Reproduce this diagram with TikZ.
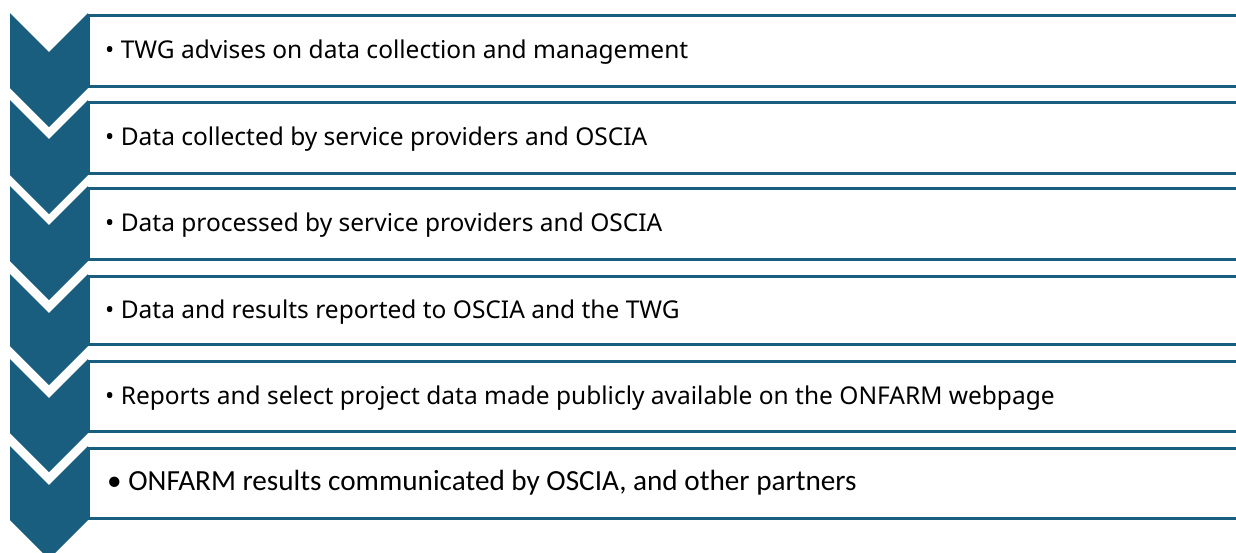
\documentclass[tikz,border=0pt]{standalone}
\usepackage{fontspec}
\setmainfont{Noto Sans}
\newfontfamily\lastfont{Carlito}
\definecolor{teal1}{RGB}{26,94,127}
\tikzset{
  boxline/.style={draw=teal1, line width=3pt},
  chev/.style={fill=teal1, draw=none},
  itemtext/.style={anchor=base west, inner sep=0pt, font=\fontsize{24.5}{28}\selectfont, text=black},
  lasttext/.style={anchor=base west, inner sep=0pt, font=\lastfont\fontsize{29.2}{32}\selectfont, text=black}
}
\begin{document}
\begin{tikzpicture}[x=1pt,y=-1pt]
\useasboundingbox (0,0) rectangle (1236,552);
\clip (0,0) rectangle (1236,552);
\fill[white] (0,0) rectangle (1236,552);
\foreach \i/\t/\b in {1/15/86, 2/102/173, 3/188/259, 4/276/344, 5/361/431, 6/448/518}{
  \draw[boxline] (88,\t) rectangle (1245,\b);
  \fill[chev] (10,\t-2) -- (49,\t+37) -- (88,\t-2) -- (88,\b+2) -- (49,\b+41) -- (10,\b+2) -- cycle;
}
\node[itemtext] (t1) at (105,58.5) {• TWG advises on data collection and management};
\node[itemtext] (t2) at (105,145) {• Data collected by service providers and OSCIA};
\node[itemtext] (t3) at (105,231.5) {• Data processed by service providers and OSCIA};
\node[itemtext] (t4) at (105,318) {• Data and results reported to OSCIA and the TWG};
\node[itemtext] (t5) at (105,404) {• Reports and select project data made publicly available on the ONFARM webpage};
\node[lasttext] (t6) at (107,490) {• ONFARM results communicated by OSCIA, and other partners};
\end{tikzpicture}
\end{document}
